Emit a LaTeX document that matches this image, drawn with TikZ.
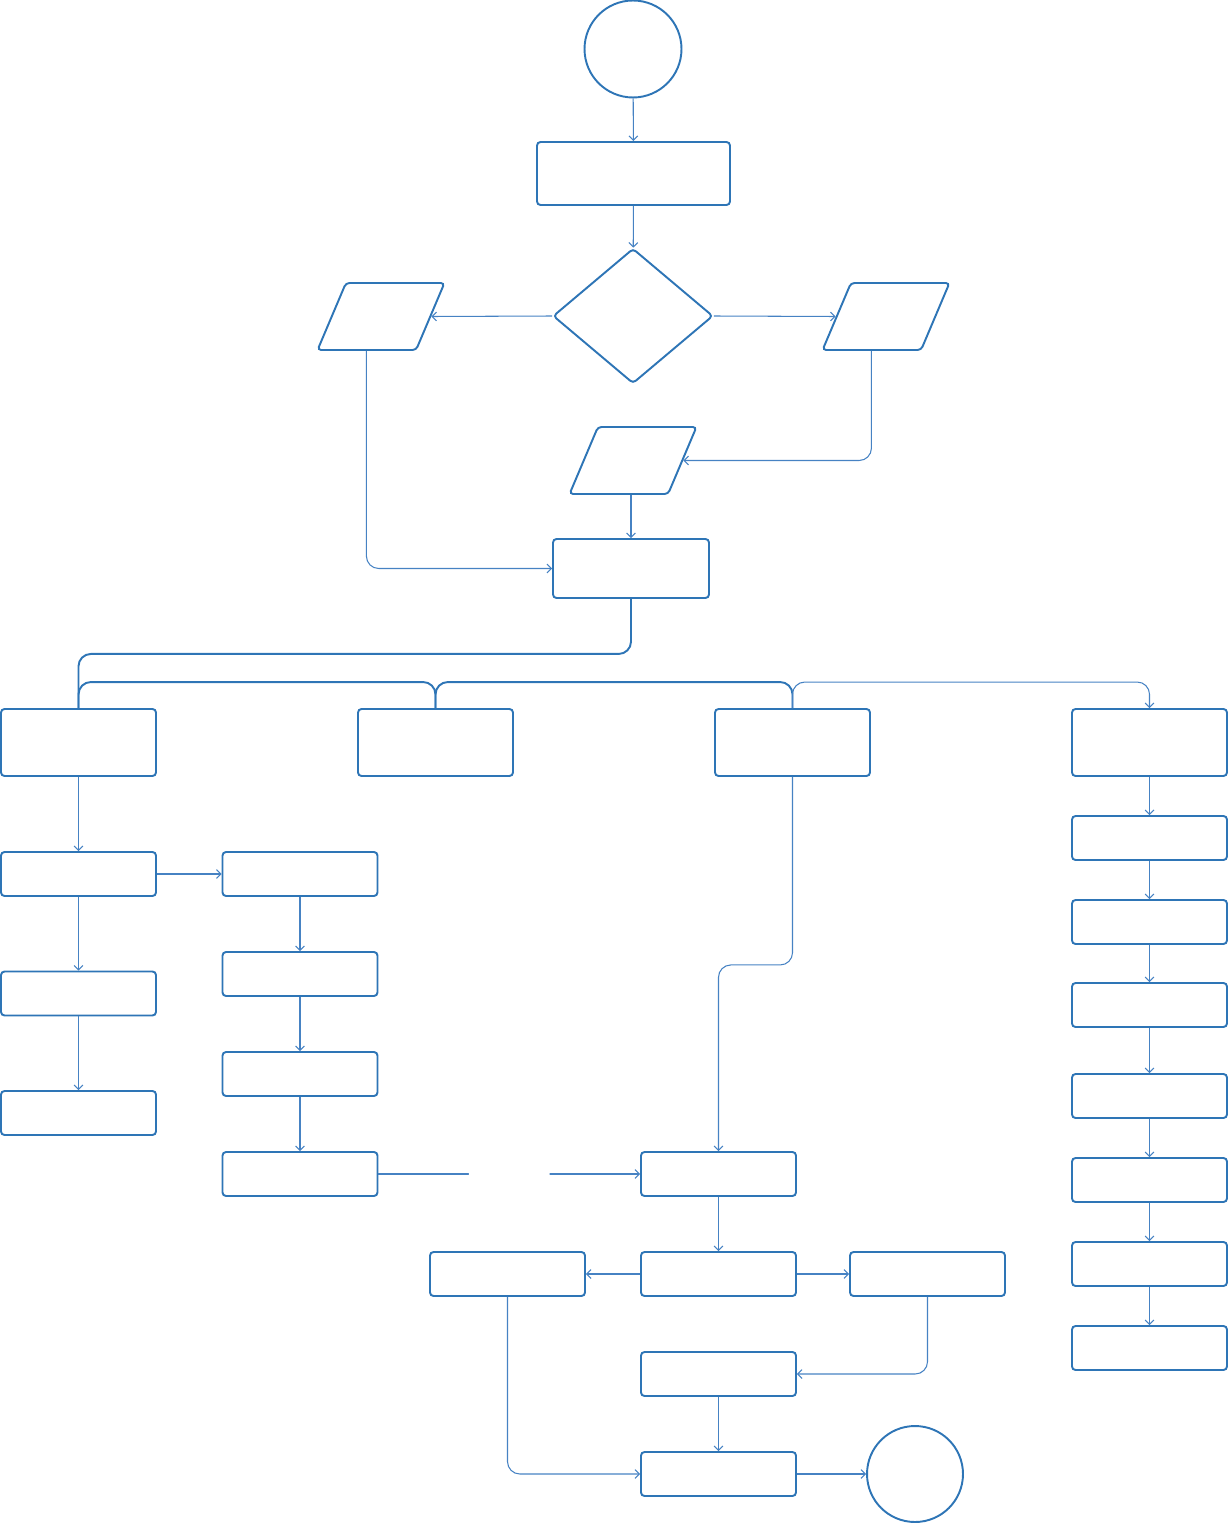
\documentclass[tikz,border=0pt]{standalone}
\usepackage{tikz}
\usetikzlibrary{arrows.meta, positioning, shapes.geometric, calc}
\definecolor{flowblue}{RGB}{46,117,182}
\definecolor{linkblue}{RGB}{70,130,195}

\begin{document}
\begin{tikzpicture}[
        x=0.02cm, y=-0.02cm,
        proc/.style={draw=flowblue, line width=1.1pt, rounded corners=2pt, minimum width=3.1cm, minimum height=0.88cm, inner sep=0pt},
        tall/.style={proc, minimum height=1.34cm},
        term/.style={circle, draw=flowblue, line width=1.1pt, minimum size=1.94cm, inner sep=0pt},
        decide/.style={diamond, draw=flowblue, line width=1.1pt, rounded corners=2pt, minimum width=3.2cm, minimum height=2.7cm, inner sep=0pt},
        io/.style={trapezium, trapezium left angle=68, trapezium right angle=112, trapezium stretches=true, draw=flowblue, line width=1.1pt, rounded corners=2pt, minimum width=2.54cm, minimum height=1.34cm, inner sep=3pt},
        link/.style={-{Straight Barb[length=2.5pt, width=5pt]}, draw=linkblue, line width=0.6pt, rounded corners=7pt},
        trunk/.style={draw=flowblue, line width=1.1pt, rounded corners=7pt}
    ]
        \useasboundingbox (0,0) rectangle (1228,1524);

        % Top: start, setup, decision
        \node[term] (start) at (633,49) {};
        \node[proc, minimum width=3.86cm, minimum height=1.26cm] (setup) at (633.5,173.5) {};
        \node[decide] (check) at (633,316) {};
        \node[io] (inleft) at (381,316.5) {};
        \node[io] (inright) at (886,316.5) {};
        \node[io] (inmid) at (633,460.5) {};
        \node[proc, minimum width=3.12cm, minimum height=1.18cm] (merge) at (631,568.5) {};

        \draw[link] (start) -- (setup);
        \draw[link] (setup) -- (check);
        \draw[link] (check.west) -- (inleft.east);
        \draw[link] (check.east) -- (inright.west);
        \draw[link] (inright.bottom side) |- (inmid.east);
        \draw[link] (inmid.south -| merge.north) -- (merge.north);
        \draw[link] (inleft.bottom side) |- (merge.west);

        % Four branches
        \node[tall] (brA) at (78.5,742.5) {};
        \node[tall] (brB) at (435.5,742.5) {};
        \node[tall] (brC) at (792.5,742.5) {};
        \node[tall] (brD) at (1149.5,742.5) {};

        \draw[trunk] (merge.south) -- ++(0,55) -| (brA.north);
        \draw[trunk] (brA.north) -- ++(0,-26) -| (brB.north);
        \draw[trunk] (brB.north) -- ++(0,-26) -| (brC.north);
        \draw[link] (brC.north) -- ++(0,-26) -| (brD.north);

        % Branch A
        \node[proc] (a1) at (78.5,874) {};
        \node[proc] (a2) at (78.5,993.5) {};
        \node[proc] (a3) at (78.5,1113) {};
        \node[proc] (b1) at (300,874) {};
        \node[proc] (b2) at (300,974) {};
        \node[proc] (b3) at (300,1074) {};
        \node[proc] (b4) at (300,1174) {};

        \draw[link] (brA) -- (a1);
        \draw[link] (a1) -- (a2);
        \draw[link] (a2) -- (a3);
        \draw[link] (a1) -- (b1);
        \draw[link] (b1) -- (b2);
        \draw[link] (b2) -- (b3);
        \draw[link] (b3) -- (b4);

        % Branch C and the closing steps
        \node[proc] (m1) at (718.5,1174) {};
        \node[proc] (m2) at (718.5,1274) {};
        \node[proc] (mleft) at (507.5,1274) {};
        \node[proc] (mright) at (927.5,1274) {};
        \node[proc] (m3) at (718.5,1374) {};
        \node[proc] (m4) at (718.5,1474) {};
        \node[term, minimum size=1.92cm] (stop) at (915,1474) {};

        \draw[link] (brC.south) -- ++(0,188) -| (m1.north);
        \draw[link] (b4) -- node[midway, fill=white, minimum width=1.62cm, minimum height=10pt, inner sep=0pt] {} (m1);
        \draw[link] (m1) -- (m2);
        \draw[link] (m2) -- (mleft);
        \draw[link] (m2) -- (mright);
        \draw[link] (mright.south) |- (m3.east);
        \draw[link] (m3) -- (m4);
        \draw[link] (mleft.south) |- (m4.west);
        \draw[link] (m4) -- (stop);

        % Branch D
        \node[proc] (d1) at (1149.5,838) {};
        \node[proc] (d2) at (1149.5,922) {};
        \node[proc] (d3) at (1149.5,1005) {};
        \node[proc] (d4) at (1149.5,1096) {};
        \node[proc] (d5) at (1149.5,1180) {};
        \node[proc] (d6) at (1149.5,1264) {};
        \node[proc] (d7) at (1149.5,1348) {};

        \draw[link] (brD) -- (d1);
        \foreach \i/\j in {d1/d2, d2/d3, d3/d4, d4/d5, d5/d6, d6/d7}
            \draw[link] (\i) -- (\j);
    \end{tikzpicture}
\end{document}
